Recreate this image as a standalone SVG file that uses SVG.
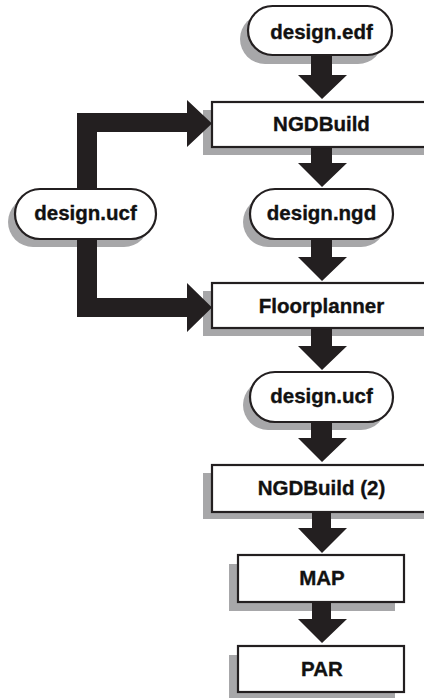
<svg xmlns="http://www.w3.org/2000/svg" width="424" height="698" viewBox="0 0 424 698">
<style>
.bg{fill:#ffffff}
.sh{fill:#a7a7a9}
.box{fill:#ffffff;stroke:#231f20;stroke-width:2.2}
.arr{fill:#231f20}
text{font-family:"Liberation Sans",Arial,sans-serif;font-weight:bold;font-size:20.5px;fill:#111111;stroke:#111111;stroke-width:0.35;text-anchor:middle}
</style>
<rect class="bg" x="0" y="0" width="424" height="698"/>
<g id="shadows">
<rect class="sh" x="240" y="14" width="143" height="50" rx="25"/>
<rect class="sh" x="203" y="110" width="221" height="45"/>
<rect class="sh" x="8" y="197" width="141" height="50" rx="25"/>
<rect class="sh" x="243" y="197" width="143" height="50" rx="25"/>
<rect class="sh" x="203" y="291" width="221" height="45"/>
<rect class="sh" x="243" y="380" width="143" height="50" rx="25"/>
<rect class="sh" x="203" y="473" width="221" height="46"/>
<rect class="sh" x="229" y="564" width="166" height="47"/>
<rect class="sh" x="229" y="655" width="166" height="47"/>
</g>
<g id="connectors">
<path class="arr" d="M311,55 H332 V75 H347 L322,99 L298,75 H311 Z"/>
<path class="arr" d="M311,147 H332 V163 H347 L322,187 L298,163 H311 Z"/>
<path class="arr" d="M311,239 H332 V257 H347 L322,281 L298,257 H311 Z"/>
<path class="arr" d="M311,328 H332 V346 H347 L322,370 L298,346 H311 Z"/>
<path class="arr" d="M311,422 H332 V438 H347 L322,462 L298,438 H311 Z"/>
<path class="arr" d="M312,512 H331 V528 H347 L322,553 L298,528 H312 Z"/>
<path class="arr" d="M312,602 H331 V619 H347 L322,643 L298,619 H312 Z"/>
<path class="arr" d="M77,113 H187 V100 L212,123.5 L187,147 V132 H97 V298 H187 V283 L212,307.5 L187,332 V317 H77 Z"/>
</g>
<g id="n_edf">
<rect class="box" x="248" y="6" width="144" height="49" rx="24.5"/>
<text x="321.5" y="38.5">design.edf</text>
</g>
<g id="n_ngdbuild">
<rect class="box" x="212" y="102" width="214" height="45"/>
<text x="321.5" y="131">NGDBuild</text>
</g>
<g id="n_ucf_left">
<rect class="box" x="15" y="189" width="141" height="50" rx="25"/>
<text x="85.5" y="220">design.ucf</text>
</g>
<g id="n_ngd">
<rect class="box" x="250" y="189" width="143" height="50" rx="25"/>
<text x="321.5" y="220">design.ngd</text>
</g>
<g id="n_floorplanner">
<rect class="box" x="212" y="283" width="214" height="45"/>
<text x="321.5" y="312.5">Floorplanner</text>
</g>
<g id="n_ucf">
<rect class="box" x="250" y="372" width="143" height="50" rx="25"/>
<text x="321.5" y="403">design.ucf</text>
</g>
<g id="n_ngdbuild2">
<rect class="box" x="212" y="465" width="214" height="47"/>
<text x="321.5" y="495">NGDBuild (2)</text>
</g>
<g id="n_map">
<rect class="box" x="238" y="555" width="166" height="47"/>
<text x="322" y="585">MAP</text>
</g>
<g id="n_par">
<rect class="box" x="238" y="646" width="166" height="46"/>
<text x="322" y="675.5">PAR</text>
</g>
</svg>
